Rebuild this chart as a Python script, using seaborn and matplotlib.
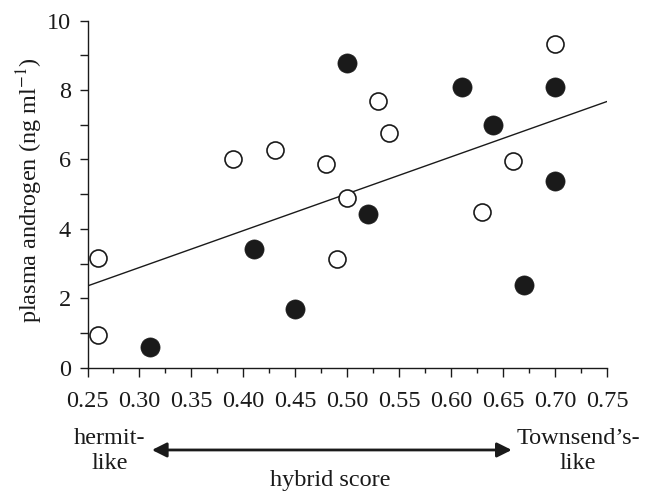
import matplotlib
matplotlib.use("Agg")
import numpy as np
import pandas as pd
import matplotlib.pyplot as plt
import seaborn as sns
from matplotlib.ticker import MultipleLocator

# hybrid score / plasma androgen (ng/ml)
open_x = [0.26, 0.26, 0.39, 0.43, 0.48, 0.49, 0.50, 0.53, 0.54, 0.63, 0.66, 0.70]
open_y = [3.15, 0.95, 6.00, 6.28, 5.88, 3.14, 4.90, 7.68, 6.77, 4.48, 5.95, 9.34]
filled_x = [0.31, 0.41, 0.45, 0.50, 0.52, 0.61, 0.64, 0.67, 0.70, 0.70]
filled_y = [0.60, 3.43, 1.70, 8.77, 4.42, 8.08, 6.98, 2.38, 5.38, 8.08]
x_ticks = [0.25, 0.30, 0.35, 0.40, 0.45, 0.50, 0.55, 0.60, 0.65, 0.70, 0.75]

df = pd.DataFrame({
    "score": open_x + filled_x,
    "androgen": open_y + filled_y,
    "group": ["open"] * len(open_x) + ["filled"] * len(filled_x),
})

ink = "#1a1a1a"
fs = 17.5

sns.set_theme(style="ticks")
plt.rcParams["font.family"] = ["Liberation Serif", "DejaVu Serif"]
plt.rcParams["mathtext.fontset"] = "stix"

fig = plt.figure(figsize=(6.56, 4.92), dpi=100)
fig.patch.set_facecolor("white")
ax = fig.add_axes([0.1334, 0.2526, 0.7919, 0.7054])
ax.set_facecolor("white")

ax.set_xlim(0.25, 0.75)
ax.set_ylim(0, 10)

# regression line over all birds, spanning the full x range
sns.regplot(data=df, x="score", y="androgen", scatter=False, ci=None,
            truncate=False, color=ink, line_kws={"linewidth": 1.0}, ax=ax)

sns.scatterplot(data=df[df.group == "open"], x="score", y="androgen", s=150,
                color="white", edgecolor=ink, linewidth=1.2, ax=ax, zorder=3)
sns.scatterplot(data=df[df.group == "filled"], x="score", y="androgen", s=190,
                color=ink, edgecolor=ink, linewidth=0.5, ax=ax, zorder=3)

ax.set_xlim(0.25, 0.75)
ax.set_ylim(0, 10)
ax.set_xticks(x_ticks)
ax.set_xticklabels([f"{v:.2f}" for v in x_ticks])
ax.xaxis.set_minor_locator(MultipleLocator(0.025))
ax.yaxis.set_major_locator(MultipleLocator(2))
ax.yaxis.set_minor_locator(MultipleLocator(1))

for side in ["top", "right"]:
    ax.spines[side].set_visible(False)
for side in ["left", "bottom"]:
    ax.spines[side].set_color(ink)
    ax.spines[side].set_linewidth(1.0)

ax.tick_params(axis="x", which="major", direction="out", length=6.5, width=1,
               pad=10, labelsize=fs, colors=ink)
ax.tick_params(axis="x", which="minor", direction="out", length=3.6, width=1,
               colors=ink)
ax.tick_params(axis="y", which="both", direction="out", length=5.8, width=1,
               pad=6, labelsize=fs, colors=ink)

ax.set_ylabel(r"plasma androgen (ng ml$^{-1}$)", fontsize=fs, color=ink)
ax.yaxis.set_label_coords(-0.082, 0.512)
ax.set_xlabel("hybrid score", fontsize=fs, color=ink)
ax.xaxis.set_label_coords(0.467, -0.294)

ax.annotate("", xy=(0.124, -0.237), xytext=(0.8166, -0.237),
            xycoords="axes fraction", textcoords="axes fraction",
            arrowprops=dict(arrowstyle="<|-|>", color=ink, lw=2.0,
                            mutation_scale=22, shrinkA=0, shrinkB=0))
ax.text(0.043, -0.24, "hermit-\nlike", transform=ax.transAxes, ha="center",
        va="center", fontsize=fs, color=ink, linespacing=1.3)
ax.text(0.944, -0.24, "Townsend\u2019s-\nlike", transform=ax.transAxes, ha="center",
        va="center", fontsize=fs, color=ink, linespacing=1.3)

fig.savefig("out.png", dpi=100, facecolor="white")
